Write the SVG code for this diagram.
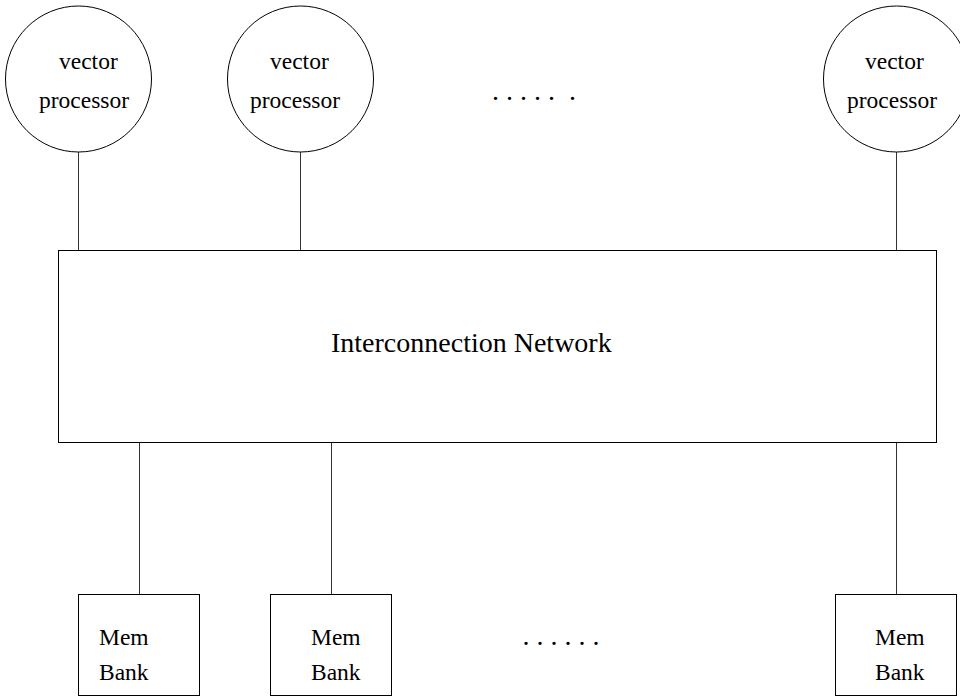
<svg xmlns="http://www.w3.org/2000/svg" width="960" height="696" viewBox="0 0 960 696">
<style>
.s{fill:none;stroke:#000;stroke-width:1}
.c{fill:none;stroke:#333;stroke-width:1}
.t{font-family:"Liberation Serif","Times New Roman",serif;font-size:23.5px;fill:#000}
.b{font-family:"Liberation Serif","Times New Roman",serif;font-size:28px;fill:#000}
</style>
<rect width="960" height="696" fill="#fff"/>
<g id="connectors">
<line class="c" x1="78.5" y1="152" x2="78.5" y2="250"/>
<line class="c" x1="300.5" y1="152" x2="300.5" y2="250"/>
<line class="c" x1="896.5" y1="152" x2="896.5" y2="250"/>
<line class="c" x1="139.5" y1="442" x2="139.5" y2="594"/>
<line class="c" x1="331.5" y1="442" x2="331.5" y2="594"/>
<line class="c" x1="896.5" y1="442" x2="896.5" y2="594"/>
</g>
<g id="vp1"><circle class="s" cx="78.5" cy="79" r="73"/><text class="t" x="59" y="69">vector</text><text class="t" x="39" y="108">processor</text></g>
<g id="vp2"><circle class="s" cx="300.5" cy="79" r="73"/><text class="t" x="270" y="69">vector</text><text class="t" x="250" y="108">processor</text></g>
<g id="vp3"><circle class="s" cx="896.5" cy="79" r="73"/><text class="t" x="865" y="69">vector</text><text class="t" x="847" y="108">processor</text></g>
<text class="b" x="492" y="100" xml:space="preserve">. . . . .  .</text>
<g id="network"><rect class="s" x="58.5" y="250.5" width="878" height="192"/><text class="b" x="331" y="352">Interconnection Network</text></g>
<g id="mb1"><rect class="s" x="78.5" y="594.5" width="121" height="101"/><text class="t" x="99" y="645">Mem</text><text class="t" x="99" y="680">Bank</text></g>
<g id="mb2"><rect class="s" x="270.5" y="594.5" width="121" height="101"/><text class="t" x="311" y="645">Mem</text><text class="t" x="311" y="680">Bank</text></g>
<g id="mb3"><rect class="s" x="835.5" y="594.5" width="121" height="101"/><text class="t" x="875" y="645">Mem</text><text class="t" x="875" y="680">Bank</text></g>
<text class="b" x="522.5" y="645">. . . . . .</text>
</svg>
